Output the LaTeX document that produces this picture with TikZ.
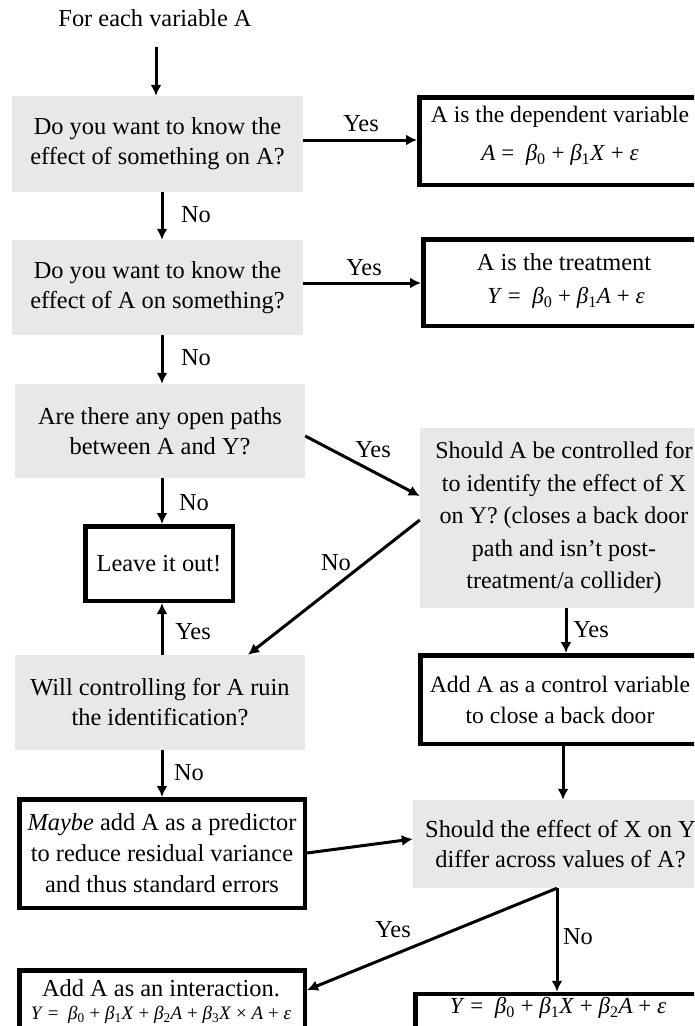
\documentclass[tikz,border=0pt]{standalone}
\usepackage{fontspec}
\setmainfont{Liberation Serif}
\usetikzlibrary{arrows.meta,calc}
\definecolor{qgray}{RGB}{232,232,232}
\newcommand{\iv}[1]{\textit{#1}}
\newcommand{\bt}[1]{\textit{β}\textsubscript{#1}}
\begin{document}
\begin{tikzpicture}[x=1pt,y=-1pt,
  every node/.style={font=\fontsize{24.4}{30}\selectfont},
  qbox/.style={fill=qgray, inner sep=0pt, align=center},
  rbox/.style={draw, line width=4.5pt, fill=white, inner sep=0pt, align=center},
  txt/.style={inner sep=0pt, align=center},
  fml/.style={inner sep=0pt, font=\fontsize{23}{26}\selectfont},
  conn/.style={line width=3pt, -{Latex[length=11pt,width=11pt]}},
  lab/.style={inner sep=0pt}]
\useasboundingbox (0,0) rectangle (694,1026);
\clip (0,0) rectangle (694,1026);

% start
\node[txt] (start) at (155,18) {For each variable A};
\coordinate (a0) at (156,47);

% boxes
\node[qbox, minimum width=291pt, minimum height=96pt] (q1) at (157.5,144)
  {Do you want to know the\\effect of something on A?};
\node[rbox, minimum width=286.5pt, minimum height=87.5pt] (r1) at (562.5,141) {};
\node[txt, font=\fontsize{23.6}{30}\selectfont] (r1t) at (560,117) {A is the dependent variable};
\node[fml] (r1f) at (560,155) {\iv{A} =\ \ \bt0 + \bt1\iv{X} + \iv{ε}};

\node[qbox, minimum width=291pt, minimum height=95pt] (q2) at (157.5,287.5)
  {Do you want to know the\\effect of A on something?};
\node[rbox, minimum width=282.5pt, minimum height=86.5pt] (r2) at (564.5,282.5) {};
\node[txt] (r2t) at (564,262) {A is the treatment};
\node[fml] (r2f) at (566,298) {\iv{Y} =\ \ \bt0 + \bt1\iv{A} + \iv{ε}};

\node[qbox, minimum width=290pt, minimum height=94pt] (q3) at (160,431)
  {Are there any open paths\\between A and Y?};
\node[qbox, minimum width=288pt, minimum height=180pt,
      font=\fontsize{24}{32.5}\selectfont] (q4) at (564,518)
  {Should A be controlled for\\to identify the effect of X\\on Y? (closes a back door\\path and isn’t post-\\treatment/a collider)};
\node[rbox, minimum width=147.5pt, minimum height=74.5pt] (leave) at (159,563.5)
  {Leave it out!};
\node[qbox, minimum width=290pt, minimum height=95pt] (q5) at (160,702.5)
  {Will controlling for A ruin\\the identification?};
\node[rbox, minimum width=285.5pt, minimum height=88.5pt,
      font=\fontsize{23.6}{31}\selectfont] (ctrl) at (563,699.5) {};
\node[txt, font=\fontsize{23.6}{31}\selectfont] (ctrlt) at (560,699.5)
  {Add A as a control variable\\to close a back door};
\node[rbox, minimum width=285.5pt, minimum height=108.5pt,
      font=\fontsize{24.4}{31}\selectfont] (maybe) at (162,853.5)
  {\textit{Maybe} add A as a predictor\\to reduce residual variance\\and thus standard errors};
\node[qbox, minimum width=295pt, minimum height=88pt] (q6) at (560.5,844)
  {Should the effect of X on Y\\differ across values of A?};
\node[rbox, minimum width=285.5pt, minimum height=72.5pt] (inter) at (162,1006.5) {};
\node[txt] (intert) at (161,988) {Add A as an interaction.};
\node[fml, font=\fontsize{19}{20}\selectfont] (interf) at (161,1015)
  {\iv{Y} =\ \ \bt0 + \bt1\iv{X} + \bt2\iv{A} + \bt3\iv{X} × \iv{A} + \iv{ε}};
\node[rbox, minimum width=290.5pt, minimum height=40pt] (final) at (560.5,1014) {};
\node[fml] (finalf) at (558,1008) {\iv{Y} =\ \ \bt0 + \bt1\iv{X} + \bt2\iv{A} + \iv{ε}};

% connectors
\draw[conn] (a0) -- (a0 |- q1.north);
\draw[conn] (q1.east |- 0,140) -- (r1.west |- 0,140);
\node[lab] (y1) at (361,124) {Yes};
\draw[conn] (q1.south -| 162,0) -- (q2.north -| 162,0);
\node[lab] (n1) at (196,215) {No};
\draw[conn] (q2.east |- 0,283) -- (r2.west |- 0,283);
\node[lab] (y2) at (364,268) {Yes};
\draw[conn] (q2.south -| 162,0) -- (q3.north -| 162,0);
\node[lab] (n2) at (196,358) {No};
\draw[conn] (q3.east |- 0,436) -- (q4.west |- 0,496);
\node[lab] (y3) at (373,450) {Yes};
\draw[conn] (q3.south -| 162,0) -- (leave.north -| 162,0);
\node[lab] (n3) at (194,503) {No};
\draw[conn] (q4.west |- 0,520) -- (q5.north -| 248,0);
\node[lab] (n4) at (336,563) {No};
\draw[conn] (q4.south -| 566,0) -- (ctrl.north -| 566,0);
\node[lab] (y4) at (591,630) {Yes};
\draw[conn] (q5.north -| 162,0) -- (leave.south -| 162,0);
\node[lab] (y5) at (193,632) {Yes};
\draw[conn] (q5.south -| 162,0) -- (maybe.north -| 162,0);
\node[lab] (n5) at (189,773) {No};
\draw[conn] (ctrl.south -| 563,0) -- (q6.north -| 563,0);
\draw[conn] (maybe.east |- 0,853) -- (q6.west |- 0,839);
\draw[conn] (q6.south -| 557,0) -- (inter.east |- 0,990);
\node[lab] (y6) at (393,930) {Yes};
\draw[conn] (q6.south -| 557,0) -- (final.north -| 557,0);
\node[lab] (n6) at (578,937) {No};
\end{tikzpicture}
\end{document}
